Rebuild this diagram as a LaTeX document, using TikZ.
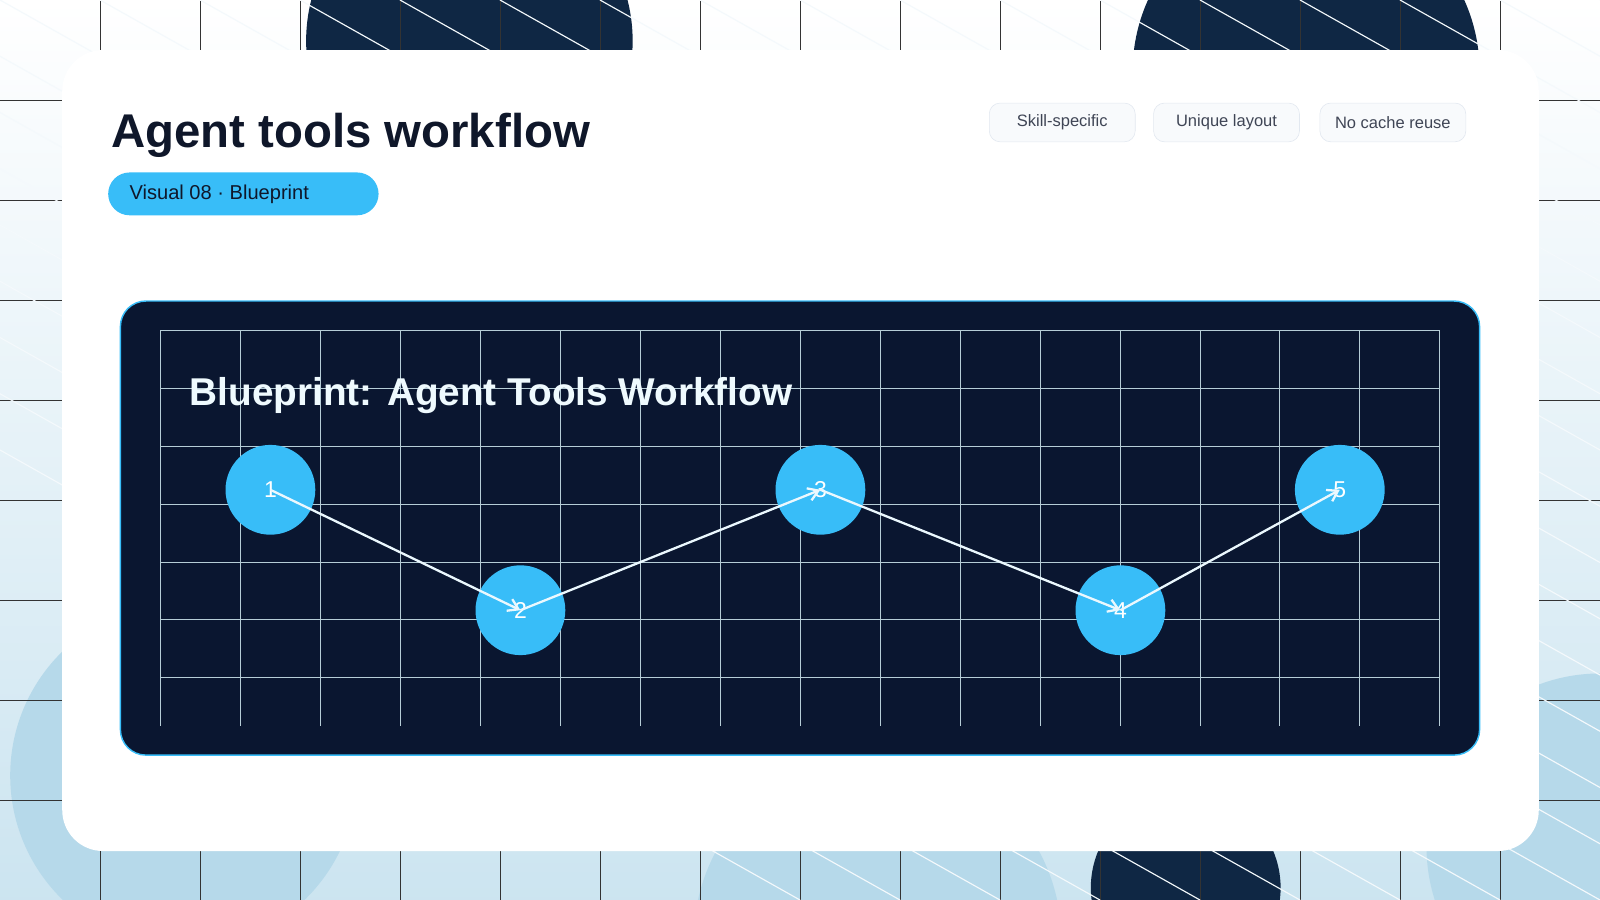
\documentclass[tikz,border=0pt]{standalone}
\usepackage{fontspec}
\setmainfont{Liberation Sans}
\usetikzlibrary{arrows.meta}
\definecolor{navy}{HTML}{0F2744}
\definecolor{panelnavy}{HTML}{0A1630}
\definecolor{skyblue}{HTML}{38BDF8}
\definecolor{paleblue}{HTML}{B6D9EA}
\definecolor{inkdark}{HTML}{0F172A}
\definecolor{taggray}{HTML}{F8FAFC}
\definecolor{tagline}{HTML}{E2E8F0}
\tikzset{
  tagpill/.style={rectangle, rounded corners=19\pgflinewidth, draw=tagline, fill=taggray, minimum width=143*0.025cm, minimum height=38*0.025cm, font=\fontsize{11.5}{13}\selectfont, text=inkdark!80},
  stepdot/.style={circle, fill=skyblue, minimum size=88*0.025cm, inner sep=0pt, text=white, font=\fontsize{16}{18}\selectfont},
  flow/.style={draw=white!90!skyblue, line width=1.6pt, -{Straight Barb[length=7pt,width=9pt]}}
}
\begin{document}
\begin{tikzpicture}[x=0.025cm,y=-0.025cm]
\useasboundingbox (0,0) rectangle (1568,882);
% backdrop
\shade[top color=white, bottom color=paleblue!70] (0,0) rectangle (1568,882);
\begin{scope}
\clip (0,0) rectangle (1568,882);
\fill[navy] (460,40) circle (160);
\fill[navy] (1280,70) circle (170);
\fill[paleblue] (860,920) circle (180);
\fill[paleblue] (180,760) circle (170);
\fill[paleblue] (1568,830) circle (170);
\fill[navy] (1162,870) circle (93);
\foreach \i in {1,...,16} \draw[black!80, line width=0.5pt] (\i*98,0) -- (\i*98,882);
\foreach \j in {1,...,8} \draw[black!80, line width=0.5pt] (0,\j*98) -- (1568,\j*98);
\foreach \k in {-8,...,16} \draw[white!85!paleblue, line width=0.8pt] (\k*98,0) -- (\k*98+1568,882);
\end{scope}
% card
\fill[white, rounded corners=40*0.025cm] (61,49) rectangle (1508,834);
\node[anchor=base west, font=\fontsize{33}{36}\selectfont\bfseries, text=inkdark] (title) at (104,145) {Agent tools workflow};
\fill[skyblue, rounded corners=21*0.025cm] (106,169) rectangle (371,211);
\node[anchor=west, font=\fontsize{14}{16}\selectfont, text=inkdark] (badge) at (122,190) {Visual 08 · Blueprint};
\node[tagpill] (tagA) at (1041,120) {Skill-specific};
\node[tagpill] (tagB) at (1202,120) {Unique layout};
\node[tagpill] (tagC) at (1365,120) {No cache reuse};
% blueprint panel
\filldraw[fill=panelnavy, draw=skyblue, line width=1pt, rounded corners=25*0.025cm] (118,295) rectangle (1450,740);
\foreach \i in {0,...,16} \draw[white!75!skyblue!70!gray, line width=0.5pt] (157+\i*78.375,324) -- (157+\i*78.375,711);
\foreach \j in {0,...,6} \draw[white!75!skyblue!70!gray, line width=0.5pt] (157,324+\j*56.67) -- (1411,324+\j*56.67);
\node[anchor=base west, font=\fontsize{27}{30}\selectfont\bfseries, text=white!92!skyblue] (bptitle) at (181,397) {Blueprint: Agent Tools Workflow};
\node[stepdot] (s1) at (265,480) {1};
\node[stepdot] (s2) at (510,598) {2};
\node[stepdot] (s3) at (804,480) {3};
\node[stepdot] (s4) at (1098,598) {4};
\node[stepdot] (s5) at (1313,480) {5};
\draw[flow] (s1.center) -- (s2.center);
\draw[flow] (s2.center) -- (s3.center);
\draw[flow] (s3.center) -- (s4.center);
\draw[flow] (s4.center) -- (s5.center);
\end{tikzpicture}
\end{document}
